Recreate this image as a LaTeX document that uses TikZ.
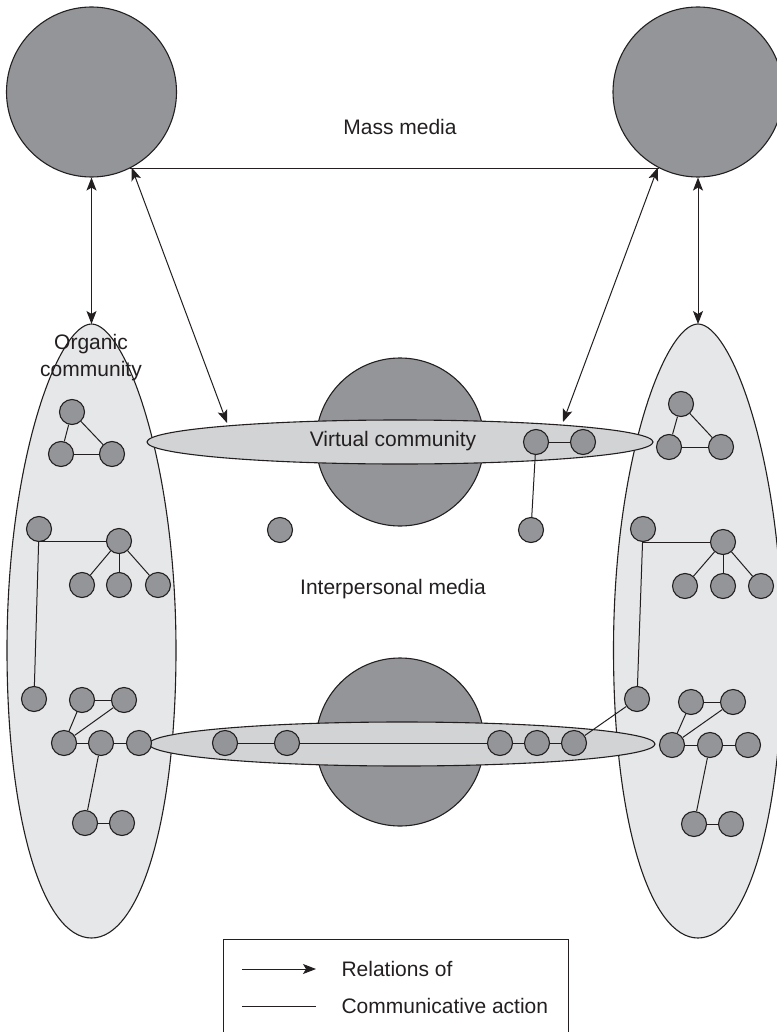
\documentclass[tikz,border=0pt]{standalone}
\usepackage{fontspec}
\setmainfont{Liberation Sans}
\usetikzlibrary{arrows.meta,shapes.geometric}
\definecolor{inkgray}{HTML}{231F20}
\definecolor{darkfill}{HTML}{939598}
\definecolor{bandfill}{HTML}{D1D3D4}
\definecolor{eggfill}{HTML}{E6E7E8}
\tikzset{
  community/.style={draw=inkgray,fill=eggfill,line width=1.1pt},
  media/.style={circle,draw=inkgray,fill=darkfill,line width=1.1pt,inner sep=0pt},
  band/.style={ellipse,draw=inkgray,fill=bandfill,line width=1.1pt,inner sep=0pt,
    minimum width=506pt,minimum height=44pt},
  actor/.style={circle,draw=inkgray,fill=darkfill,line width=1.1pt,inner sep=0pt,
    minimum size=25pt},
  caption/.style={text=inkgray,font=\fontsize{21}{27}\selectfont},
  tip/.tip={Stealth[length=13pt,width=10pt,inset=3pt]},
  relation/.style={draw=inkgray,line width=1pt,tip-tip}
}
\newcommand\organic{%
  (91.5,324) .. controls (124.5,324) and (176,460) .. (176,650)
  .. controls (176,820) and (140,938) .. (91.5,938)
  .. controls (43,938) and (7,820) .. (7,650)
  .. controls (7,460) and (58.5,324) .. (91.5,324) -- cycle}
\begin{document}
\begin{tikzpicture}[x=1pt,y=-1pt]
      \useasboundingbox (0,0) rectangle (776,1032);
      \draw[community] \organic;
      \begin{scope}[xshift=606.5pt]
        \draw[community] \organic;
      \end{scope}
      \coordinate (orgL) at (91.5,324);
      \coordinate (orgR) at (698,324);
      \node[media,minimum size=170pt] (massL) at (91.5,92) {};
      \node[media,minimum size=170pt] (massR) at (698,92) {};
      \node[media,minimum size=168pt] (netV) at (400,442) {};
      \node[media,minimum size=168pt] (netI) at (400,742) {};
      \node[band] (virtual) at (400,442) {};
      \node[band] (personal) at (402,744) {};
      \coordinate (virtL) at (227,423);
      \coordinate (virtR) at (563,422);
      \node[caption] (mass) at (400,127) {Mass media};
      \node[caption] (vlabel) at (393,441) {Virtual community};
      \node[caption] (ilabel) at (393,589) {Interpersonal media};
      \node[caption,align=center] (olabel) at (91,358) {Organic\\community};
      \draw
        (72,412) node[actor] (a1){}
        (61,454) node[actor] (a2){}
        (112,454) node[actor] (a3){}
        (39,529) node[actor] (b1){}
        (119,541) node[actor] (b2){}
        (82,585) node[actor] (b3){}
        (119,585) node[actor] (b4){}
        (158,585) node[actor] (b5){}
        (34,699) node[actor] (c1){}
        (82,700) node[actor] (c2){}
        (124,700) node[actor] (c3){}
        (64,743) node[actor] (c4){}
        (101,743) node[actor] (c5){}
        (139,743) node[actor] (c6){}
        (85,823) node[actor] (c7){}
        (122,823) node[actor] (c8){};
      \draw
        (681,404) node[actor] (A1){}
        (669,447) node[actor] (A2){}
        (721,447) node[actor] (A3){}
        (643,529) node[actor] (B1){}
        (723,542) node[actor] (B2){}
        (685,586) node[actor] (B3){}
        (723,586) node[actor] (B4){}
        (761,586) node[actor] (B5){}
        (637,699) node[actor] (C1){}
        (691,702) node[actor] (C2){}
        (733,702) node[actor] (C3){}
        (672,745) node[actor] (C4){}
        (710,745) node[actor] (C5){}
        (748,745) node[actor] (C6){}
        (694,824) node[actor] (C7){}
        (731,824) node[actor] (C8){};
      \draw
        (536,442) node[actor] (v1){}
        (583,442) node[actor] (v2){}
        (531,530) node[actor] (v3){}
        (280,530) node[actor] (v4){}
        (225,743) node[actor] (p1){}
        (287,743) node[actor] (p2){}
        (500,743) node[actor] (p3){}
        (537,743) node[actor] (p4){}
        (574,743) node[actor] (p5){};
      \begin{scope}[draw=inkgray,line width=1pt]
        \draw (a1) to (a2);
        \draw (a1) to (a3);
        \draw (a2) to (a3);
        \draw (b1) |- (b2);
        \draw (b2) to (b3);
        \draw (b2) to (b4);
        \draw (b2) to (b5);
        \draw (b1) to (c1);
        \draw (c2) to (c3);
        \draw (c2) to (c4);
        \draw (c4) to (c3);
        \draw (c4) to (c5);
        \draw (c5) to (c6);
        \draw (c5) to (c7);
        \draw (c7) to (c8);
        \draw (A1) to (A2);
        \draw (A1) to (A3);
        \draw (A2) to (A3);
        \draw (B1) |- (B2);
        \draw (B2) to (B3);
        \draw (B2) to (B4);
        \draw (B2) to (B5);
        \draw (B1) to (C1);
        \draw (C2) to (C3);
        \draw (C2) to (C4);
        \draw (C4) to (C3);
        \draw (C4) to (C5);
        \draw (C5) to (C6);
        \draw (C5) to (C7);
        \draw (C7) to (C8);
        \draw (v1) to (v2);
        \draw (v1) to (v3);
        \draw (p1) to (p2);
        \draw (p2) to (p3);
        \draw (p3) to (p4);
        \draw (p4) to (p5);
        \draw (p5) to (C1);
        \draw (massL.-63) to (massR.-117);
      \end{scope}
      \draw[relation] (massL.south) -- (orgL);
      \draw[relation] (massR.south) -- (orgR);
      \draw[relation] (massL.-62) -- (virtL);
      \draw[relation] (massR.-118) -- (virtR);
      \draw[draw=inkgray,line width=1pt] (223,1040) |- (568,939) -- (568,1040);
      \coordinate (k1) at (242,969);
      \coordinate (k2) at (316,969);
      \coordinate (k3) at (242,1006);
      \coordinate (k4) at (316,1006);
      \draw[draw=inkgray,line width=1pt,-tip] (k1) -- (k2);
      \draw[draw=inkgray,line width=1pt] (k3) -- (k4);
      \node[caption,anchor=west] (key1) at (338,969) {Relations of};
      \node[caption,anchor=west] (key2) at (338,1006) {Communicative action};
    \end{tikzpicture}
\end{document}
